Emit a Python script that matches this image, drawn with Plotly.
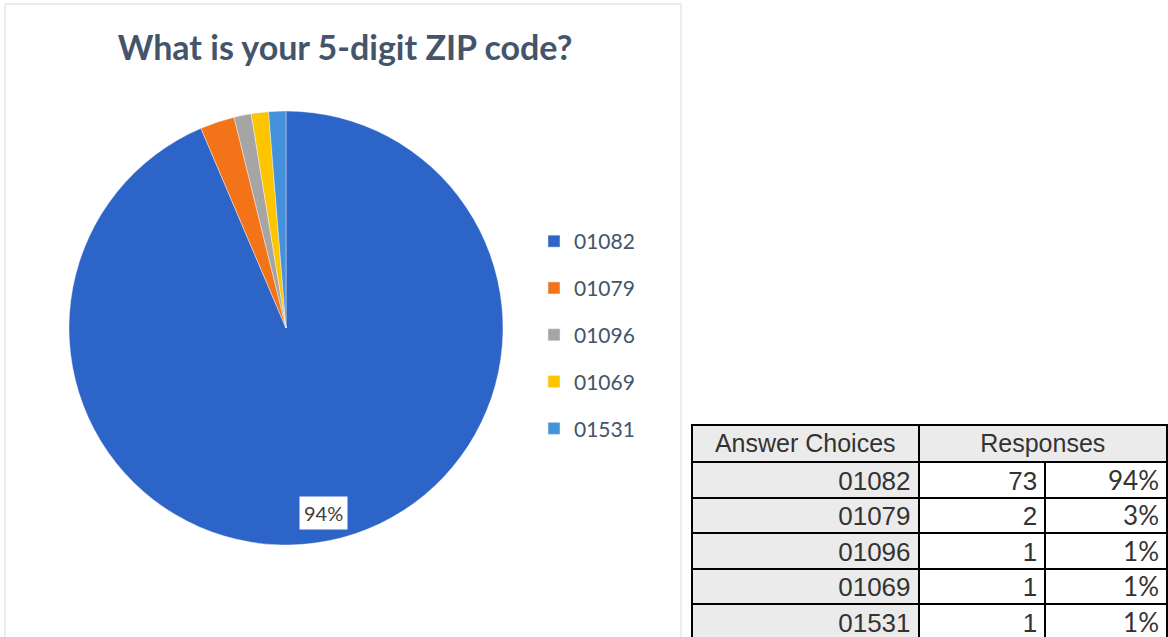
import math
import plotly.graph_objects as go

# ---- data ----
zip_codes = ["01082", "01079", "01096", "01069", "01531"]
responses = [73, 2, 1, 1, 1]
colors = ["#2d64c8", "#f27318", "#a5a5a5", "#fdc400", "#4592dc"]
title_text = "What is your 5-digit ZIP code?"
header_labels = ["Answer Choices", "Responses"]

total = sum(responses)
pct_labels = [f"{round(v / total * 100)}%" for v in responses]

W, H = 1168, 637

def px_x(p):
    return p / W

def px_y(p):
    return 1 - p / H

# pie geometry (pixels)
cx, cy, r = 286, 328, 217
pie_dom_x = [px_x(cx - r), px_x(cx + r)]
pie_dom_y = [px_y(cy + r), px_y(cy - r)]

fig = go.Figure()

fig.add_trace(go.Pie(
    labels=zip_codes,
    values=responses,
    sort=False,
    direction="clockwise",
    rotation=0,
    marker=dict(colors=colors, line=dict(color="white", width=0.4)),
    textinfo="none",
    hoverinfo="label+value+percent",
    showlegend=False,
    domain=dict(x=pie_dom_x, y=pie_dom_y),
))

# legend entries (one group per ZIP so spacing can match)
for z, c in zip(zip_codes, colors):
    fig.add_trace(go.Bar(x=[None], y=[None], name=z, marker_color=c,
                         legendgroup=z, showlegend=True, hoverinfo="skip"))

# data label for the largest slice, placed at its mid-angle
frac_mid = (responses[0] / 2) / total
theta = frac_mid * 2 * math.pi
lr = 0.87 * r
lx = cx + lr * math.sin(theta)
ly = cy - lr * math.cos(theta)
fig.add_annotation(x=px_x(lx), y=px_y(ly), xref="paper", yref="paper",
                   xanchor="center", yanchor="middle",
                   text=pct_labels[0], showarrow=False,
                   font=dict(family="Lato, Carlito, sans-serif", size=20, color="#404040"),
                   bgcolor="white", borderpad=4)

# table header (merged "Responses")
tbl_x = [px_x(692), 1.0]
fig.add_trace(go.Table(
    domain=dict(x=tbl_x, y=[px_y(463), px_y(425)]),
    columnwidth=[227, 249],
    header=dict(values=header_labels, height=37,
                fill_color="#ebebeb", line=dict(color="black", width=2),
                align="center",
                font=dict(family="Liberation Sans, Arial, sans-serif", size=25, color="#333333")),
    cells=dict(values=[[], []], height=0),
))

# table body
fig.add_trace(go.Table(
    domain=dict(x=tbl_x, y=[0, px_y(462)]),
    columnwidth=[227, 127, 122],
    header=dict(values=["", "", ""], height=0, line=dict(width=0),
                fill_color="rgba(0,0,0,0)"),
    cells=dict(values=[zip_codes, responses, pct_labels], height=35.5,
               fill_color=[["#ebebeb"] * len(zip_codes), ["white"] * len(zip_codes), ["white"] * len(zip_codes)],
               line=dict(color="black", width=2),
               align="right",
               font=dict(family=["Liberation Sans, Arial, sans-serif", "Liberation Sans, Arial, sans-serif", "Lato, sans-serif"],
                         size=26, color="#333333")),
))

# chart-area border
fig.add_shape(type="rect", xref="paper", yref="paper",
              x0=px_x(5), x1=px_x(681), y0=px_y(640), y1=px_y(4),
              line=dict(color="#d9d9d9", width=1), fillcolor="rgba(0,0,0,0)")

fig.update_layout(
    width=W, height=H,
    margin=dict(l=0, r=0, t=0, b=0),
    paper_bgcolor="white",
    plot_bgcolor="rgba(0,0,0,0)",
    title=dict(text=f"<b>{title_text}</b>", x=px_x(345), xanchor="center",
               y=px_y(48), yanchor="middle",
               font=dict(family="Lato, Carlito, sans-serif", size=34, color="#44546a")),
    xaxis=dict(visible=False, domain=[0.999, 1.0]),
    yaxis=dict(visible=False, domain=[0.999, 1.0]),
    legend=dict(x=px_x(534), xanchor="left", y=px_y(221), yanchor="top",
                font=dict(family="Lato, Carlito, sans-serif", size=21, color="#44546a"),
                tracegroupgap=16.5, itemclick=False, itemdoubleclick=False,
                bgcolor="rgba(0,0,0,0)"),
)

fig.write_html("out.html", config={"displayModeBar": False},
               post_script="document.body.style.margin='0';document.body.style.overflow='hidden';")
